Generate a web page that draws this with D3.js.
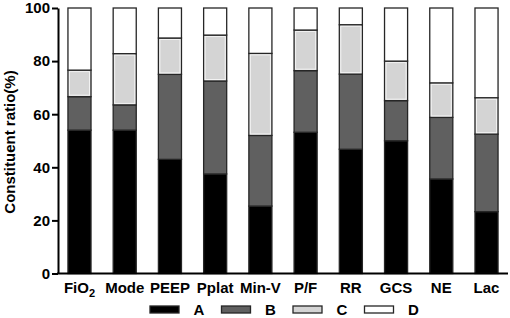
<!DOCTYPE html>
<html>
<head>
<meta charset="utf-8">
<script src="https://cdn.jsdelivr.net/npm/d3@7"></script>
<style>
  body { margin: 0; background: #fff; }
  text { font-family: "Liberation Sans", Arial, sans-serif; font-weight: bold; }
</style>
</head>
<body>
<div id="chart_area"></div>
<script>
var width = 510, height = 318;

var categories = ["FiO2", "Mode", "PEEP", "Pplat", "Min-V", "P/F", "RR", "GCS", "NE", "Lac"];
var seriesNames = ["A", "B", "C", "D"];
// percentage of each part (stacked to 100)
var valuesA = [54, 54, 43, 37.5, 25.4, 53.2, 46.8, 50, 35.6, 23.3];
var valuesB = [12.6, 9.5, 32, 35, 26.6, 23.2, 28.3, 15.1, 23.2, 29.2];
var valuesC = [10, 19.3, 13.7, 17.3, 30.9, 15.3, 18.6, 14.9, 13, 13.7];
var valuesD = [23.4, 17.2, 11.3, 10.2, 17.1, 8.3, 6.3, 20, 28.2, 33.8];
var yTicks = [0, 20, 40, 60, 80, 100];

var colours = ["#000000", "#606060", "#d4d4d4", "#ffffff"];

var data = categories.map(function (c, i) {
    return { cat: c, A: valuesA[i], B: valuesB[i], C: valuesC[i], D: valuesD[i] };
});

var svg = d3.select("#chart_area")
    .append("svg")
    .attr("width", width)
    .attr("height", height);

var plot = { left: 58, right: 508, top: 8, bottom: 273.5 };

var x = d3.scaleBand()
    .domain(categories)
    .range([plot.left, plot.right])
    .paddingInner(0.49)
    .paddingOuter(0.22);

var y = d3.scaleLinear()
    .domain([0, 100])
    .range([plot.bottom, plot.top]);

var stack = d3.stack().keys(seriesNames);
var series = stack(data);

// bars
var groups = svg.selectAll("g.layer")
    .data(series)
    .enter()
    .append("g")
    .attr("class", "layer")
    .attr("fill", function (d, i) { return colours[i]; });

groups.selectAll("rect")
    .data(function (d) { return d; })
    .enter()
    .append("rect")
    .attr("x", function (d) { return x(d.data.cat); })
    .attr("y", function (d) { return y(d[1]); })
    .attr("width", x.bandwidth())
    .attr("height", function (d) { return y(d[0]) - y(d[1]); })
    .attr("stroke", "#262626")
    .attr("stroke-width", 1.3);

// light inner line on the C parts
svg.append("g")
    .selectAll("rect")
    .data(series[2])
    .enter()
    .append("rect")
    .attr("x", function (d) { return x(d.data.cat) + 1.5; })
    .attr("y", function (d) { return y(d[1]) + 1.5; })
    .attr("width", x.bandwidth() - 3)
    .attr("height", function (d) { return y(d[0]) - y(d[1]) - 3; })
    .attr("fill", "none")
    .attr("stroke", "#f2f2f2")
    .attr("stroke-width", 1);

// Y axis
var yAxis = svg.append("g")
    .attr("transform", "translate(" + plot.left + ",0)")
    .call(d3.axisLeft(y).tickValues(yTicks).tickSize(6).tickSizeOuter(0).tickPadding(2));
yAxis.select(".domain").attr("stroke", "#000").attr("stroke-width", 2);
yAxis.selectAll(".tick line").attr("stroke", "#000").attr("stroke-width", 2);
yAxis.selectAll("text")
    .attr("fill", "#000")
    .style("font-size", "15px");

// X axis
var xAxis = svg.append("g")
    .attr("transform", "translate(0," + plot.bottom + ")")
    .call(d3.axisBottom(x).tickSize(0).tickSizeOuter(0).tickPadding(9));
xAxis.select(".domain").attr("stroke", "#000").attr("stroke-width", 2)
    .attr("d", "M" + (plot.left - 1) + ",0H" + plot.right);
xAxis.selectAll("text")
    .attr("fill", "#000")
    .style("font-size", "15px")
    .each(function (d) {
        if (d === "FiO2") {
            var t = d3.select(this).text("FiO");
            t.append("tspan").attr("dy", "0.35em").style("font-size", "11px").text("2");
        }
    });

// Y title
svg.append("text")
    .attr("transform", "translate(15,142) rotate(-90)")
    .attr("text-anchor", "middle")
    .style("font-size", "15px")
    .text("Constituent ratio(%)");

// legend
var legendX = d3.scaleBand()
    .domain(seriesNames)
    .range([150, 436]);

var legend = svg.selectAll("g.legend")
    .data(seriesNames)
    .enter()
    .append("g")
    .attr("class", "legend")
    .attr("transform", function (d) { return "translate(" + legendX(d) + ",306)"; });

legend.append("rect")
    .attr("width", 29)
    .attr("height", 7)
    .attr("fill", function (d, i) { return colours[i]; })
    .attr("stroke", "#262626")
    .attr("stroke-width", 1.3);

legend.append("text")
    .attr("x", 49)
    .attr("y", 9)
    .attr("text-anchor", "middle")
    .style("font-size", "15px")
    .text(function (d) { return d; });
</script>
</body>
</html>
